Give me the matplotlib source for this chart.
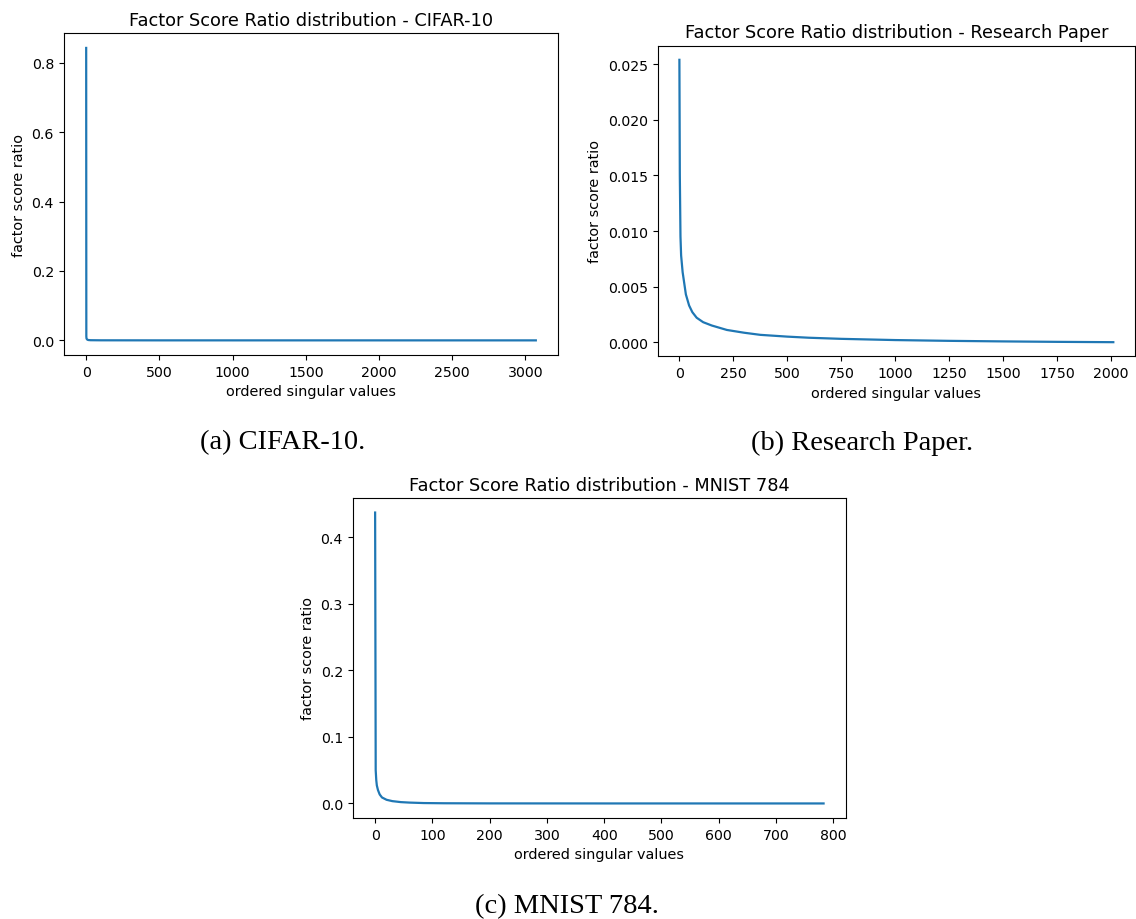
import numpy as np
import matplotlib
matplotlib.use('Agg')
import matplotlib.pyplot as plt

cifar_x = [0, 1, 2, 4, 8, 15, 30, 100, 500, 1000, 2000, 3071]
cifar_y = [0.843, 0.012, 0.006, 0.004, 0.002, 0.001, 0.0005, 0.0002, 0.00005, 0.00002, 0.00001, 0.0]

paper_x = [0, 2, 5, 8, 15, 30, 45, 60, 80, 110, 150, 220, 300, 375, 500, 600, 750, 1000, 1250, 1500, 1750, 2011]
paper_y = [0.0254, 0.0150, 0.0095, 0.0078, 0.0063, 0.0043, 0.0033, 0.0027, 0.0022, 0.0018, 0.0015, 0.0011,
           0.00085, 0.00066, 0.0005, 0.0004, 0.0003, 0.00019, 0.00012, 0.00007, 0.00003, 0.0]

mnist_x = [0, 1, 2, 3, 5, 8, 12, 20, 30, 45, 60, 85, 120, 200, 400, 783]
mnist_y = [0.437, 0.050, 0.035, 0.027, 0.020, 0.0135, 0.009, 0.0055, 0.0035, 0.002, 0.0013, 0.0006,
           0.0003, 0.0001, 0.00002, 0.0]

titles = ['Factor Score Ratio distribution - CIFAR-10',
          'Factor Score Ratio distribution - Research Paper',
          'Factor Score Ratio distribution - MNIST 784']
captions = ['(a) CIFAR-10.', '(b) Research Paper.', '(c) MNIST 784.']

W, H = 1136, 920
fig = plt.figure(figsize=(W / 100, H / 100), dpi=100)

def px_axes(left, top, right, bottom):
    return fig.add_axes([left / W, 1 - bottom / H, (right - left) / W, (bottom - top) / H])

axA = px_axes(63.7, 34.3, 558.3, 356)
axB = px_axes(657.7, 46.7, 1135, 357.3)
axC = px_axes(352.7, 499, 846, 819)

for ax, xs, ys, title in [(axA, cifar_x, cifar_y, titles[0]),
                          (axB, paper_x, paper_y, titles[1]),
                          (axC, mnist_x, mnist_y, titles[2])]:
    ax.plot(xs, ys, color='#1f77b4', lw=1.6)
    ax.set_title(title, fontsize=12.8)
    ax.set_xlabel('ordered singular values', fontsize=10.4)
    ax.set_ylabel('factor score ratio', fontsize=10.4)
    ax.tick_params(labelsize=10.2)

axA.set_yticks([0.0, 0.2, 0.4, 0.6, 0.8])
axB.set_xticks(np.arange(0, 2001, 250))
axB.set_yticks([0.0, 0.005, 0.010, 0.015, 0.020, 0.025])
axC.set_xticks(np.arange(0, 801, 100))

fig.text(283 / W, 1 - 443 / H, captions[0], family='Liberation Serif', fontsize=20.5, ha='center', va='center')
fig.text(862 / W, 1 - 443 / H, captions[1], family='Liberation Serif', fontsize=20.5, ha='center', va='center')
fig.text(567 / W, 1 - 907 / H, captions[2], family='Liberation Serif', fontsize=20.5, ha='center', va='center')

fig.savefig('out.png', dpi=100)
